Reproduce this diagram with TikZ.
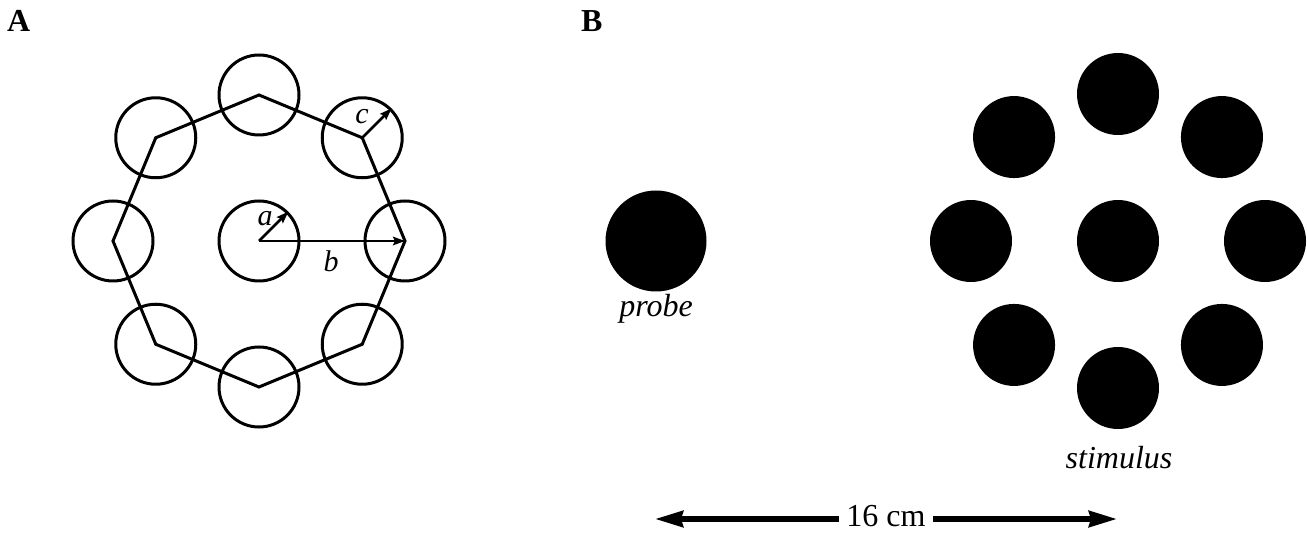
\documentclass[tikz,border=0pt]{standalone}
\usepackage{fontspec}
\setmainfont{Liberation Serif}
\usetikzlibrary{calc,arrows.meta}
\begin{document}
\begin{tikzpicture}[x=1pt,y=-1pt,
  ring/.style={circle,draw,line width=3pt,minimum size=80pt,inner sep=0pt},
  dot/.style={circle,fill=black,minimum size=82pt,inner sep=0pt},
  probedot/.style={circle,fill=black,minimum size=101pt,inner sep=0pt},
  edge/.style={line width=3pt,line join=miter},
  smallarr/.style={line width=2.8pt,-{Stealth[length=12pt,width=8.5pt,inset=2pt]}},
  bigarr/.style={line width=5.5pt,-{Stealth[length=28pt,width=16pt,inset=2pt]}},
  panel/.style={font=\fontsize{32}{36}\selectfont\bfseries,anchor=base west,inner sep=0pt},
  lab/.style={font=\fontsize{30}{34}\selectfont\itshape,anchor=base,inner sep=0pt},
  captext/.style={font=\fontsize{32}{36}\selectfont\itshape,anchor=base,inner sep=0pt}]
\useasboundingbox (0,0) rectangle (1307,534);
% panel labels
\node[panel] (pA) at (7,32) {A};
\node[panel] (pB) at (581,32) {B};
% panel A
\coordinate (cA) at (259,241);
\node[ring] (ac) at (cA) {};
\foreach \i in {0,...,7}
  \node[ring] (o\i) at ($(cA)+({146*cos(45*\i)},{-146*sin(45*\i)})$) {};
\draw[edge] (o0.center) -- (o1.center) -- (o2.center) -- (o3.center) -- (o4.center)
  -- (o5.center) -- (o6.center) -- (o7.center) -- cycle;
\draw[smallarr] (ac.center) -- (o0.center);
\draw[smallarr] (ac.center) -- (ac.45);
\draw[smallarr] (o1.center) -- (o1.45);
\node[lab] (la) at (265,226) {a};
\node[lab] (lb) at (331,272) {b};
\node[lab] (lc) at (362,124) {c};
% panel B
\node[probedot] (probe) at (656,241) {};
\node[captext] (tprobe) at (656,317) {probe};
\coordinate (cB) at (1118,241);
\node[dot] (sc) at (cB) {};
\foreach \i in {0,...,7}
  \node[dot] (s\i) at ($(cB)+({147*cos(45*\i)},{-147*sin(45*\i)})$) {};
\node[captext] (tstim) at (1119,468) {stimulus};
% scale arrow
\node[font=\fontsize{32}{36}\selectfont,anchor=base,inner xsep=7pt,inner ysep=0pt] (t16) at (886,526) {16 cm};
\coordinate (L) at (655,519);
\coordinate (R) at (1117,519);
\draw[bigarr] (t16.west |- L) -- (L);
\draw[bigarr] (t16.east |- R) -- (R);
\end{tikzpicture}
\end{document}
